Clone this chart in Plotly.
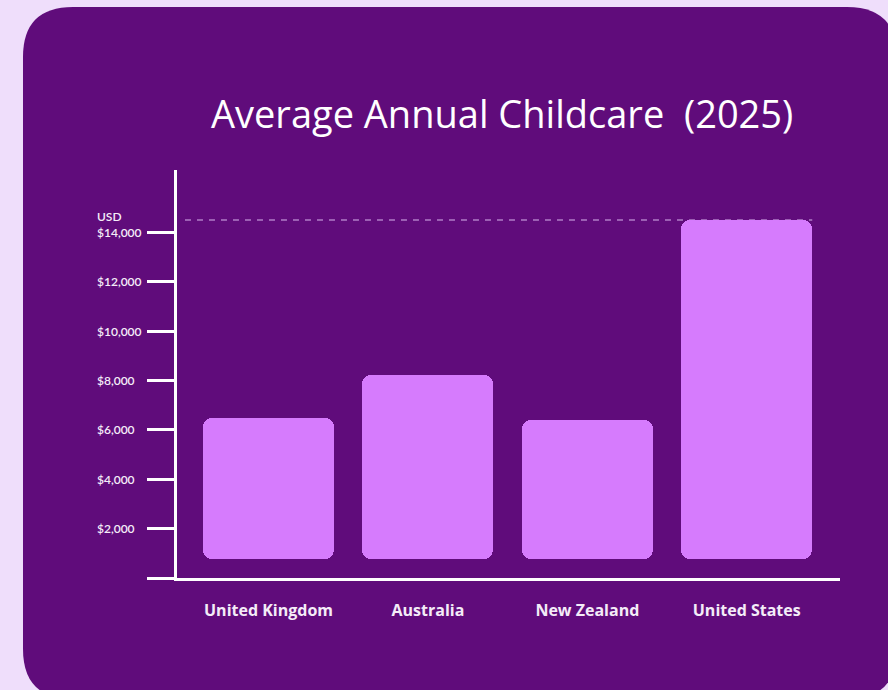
import plotly.graph_objects as go

# ---- data ----
countries = ["United Kingdom", "Australia", "New Zealand", "United States"]
costs = [6500, 8230, 6420, 14500]
tick_values = [2000, 4000, 6000, 8000, 10000, 12000, 14000]
tick_labels = ["$2,000", "$4,000", "$6,000", "$8,000", "$10,000", "$12,000", "$14,000"]
title_text = "Average Annual Childcare \u00a0(2025)"
unit_label = "USD"

# ---- style ----
W, H = 888, 690
ML, MR, MT, MB = 177, 48, 170, 112
PW, PH = W - ML - MR, H - MT - MB
BG = "#efdefb"
PANEL = "#600c7b"
BAR = "#d67bfd"
TXT = "#f4ecf8"
BAR_FLOOR = 750
BAR_W = 0.822
Y_MAX = 16530
X_RANGE = [-0.574, 3.585]


def px(x):
    return (x - ML) / PW


def py(y):
    return (H - MB - y) / PH


fig = go.Figure()
fig.add_trace(go.Bar(
    x=countries, base=[BAR_FLOOR] * len(costs),
    y=[v - BAR_FLOOR for v in costs],
    width=BAR_W, marker=dict(color=BAR, line=dict(width=0), cornerradius=9),
    hoverinfo="skip", showlegend=False))

# panel background (rounded rectangle)
x0, y0, x1, y1, r = 23, 7, 897, 699, 50
pts = [
    ("M", [(x0 + r, y0)]),
    ("L", [(x1 - r, y0)]),
    ("Q", [(x1, y0), (x1, y0 + r)]),
    ("L", [(x1, y1 - r)]),
    ("Q", [(x1, y1), (x1 - r, y1)]),
    ("L", [(x0 + r, y1)]),
    ("Q", [(x0, y1), (x0, y1 - r)]),
    ("L", [(x0, y0 + r)]),
    ("Q", [(x0, y0), (x0 + r, y0)]),
]
path = " ".join(cmd + " " + " ".join(f"{px(a):.5f},{py(b):.5f}" for a, b in p) for cmd, p in pts) + " Z"

shapes = [
    dict(type="path", path=path, xref="paper", yref="paper",
         fillcolor=PANEL, line=dict(width=0), layer="below"),
    dict(type="line", xref="x", yref="y",
         x0=X_RANGE[0] + 0.05, x1=len(countries) - 1 + BAR_W / 2,
         y0=max(costs), y1=max(costs),
         line=dict(color="#b07cc8", width=1.5, dash="6px,6px"), layer="below"),
]

annotations = [
    dict(text=lab, x=px(95), xref="paper", y=v, yref="y", xanchor="left",
         yanchor="middle", showarrow=False,
         font=dict(family="Lato", size=12, color=TXT, weight=600))
    for v, lab in zip(tick_values, tick_labels)
]
annotations.append(dict(text=unit_label, x=px(95), xref="paper", y=py(216), yref="paper",
                        xanchor="left", yanchor="middle", showarrow=False,
                        font=dict(family="Lato", size=12, color=TXT, weight=600)))
annotations.append(dict(text=title_text, x=px(502), xref="paper", y=py(113), yref="paper",
                        xanchor="center", yanchor="middle", showarrow=False,
                        font=dict(family="Open Sans", size=38, color="#ffffff")))

fig.update_layout(
    width=W, height=H,
    margin=dict(l=ML, r=MR, t=MT, b=MB, pad=0),
    paper_bgcolor=BG, plot_bgcolor="rgba(0,0,0,0)",
    bargap=0,
    shapes=shapes, annotations=annotations,
    xaxis=dict(range=X_RANGE, showgrid=False, zeroline=False,
               showline=True, linecolor="#ffffff", linewidth=3,
               ticks="", ticklabelstandoff=16,
               tickfont=dict(family="Open Sans", size=16, color=TXT, weight=700)),
    yaxis=dict(range=[0, Y_MAX], showgrid=False, zeroline=False,
               showline=True, linecolor="#ffffff", linewidth=3,
               ticks="outside", ticklen=27, tickwidth=3, tickcolor="#ffffff",
               tickvals=[0] + tick_values, showticklabels=False),
)

fig.write_html("out.html")
